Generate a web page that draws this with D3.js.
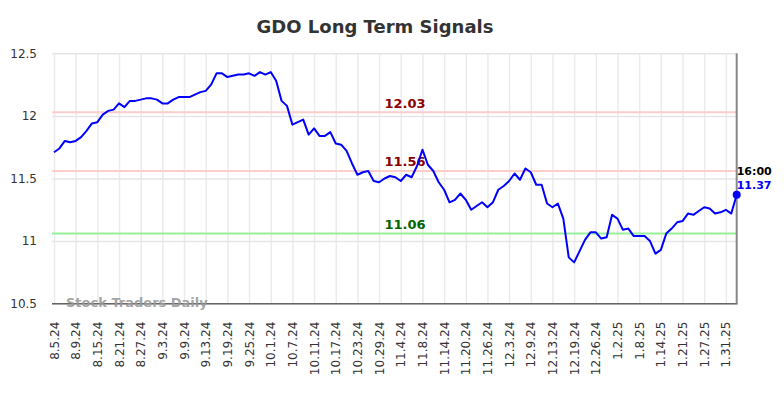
<!DOCTYPE html>
<html>
<head>
<meta charset="utf-8">
<script src="https://cdn.jsdelivr.net/npm/d3@7"></script>
<style>
  html, body { margin: 0; padding: 0; background: #fff; }
  svg { display: block; font-family: "DejaVu Sans", sans-serif; }
</style>
</head>
<body>
<svg id="chart" width="784" height="398"></svg>
<script>
// ---- data ----
const tickLabels = ["8.5.24","8.9.24","8.15.24","8.21.24","8.27.24","9.3.24","9.9.24","9.13.24","9.19.24","9.25.24",
  "10.1.24","10.7.24","10.11.24","10.17.24","10.23.24","10.29.24","11.4.24","11.8.24","11.14.24","11.20.24",
  "11.26.24","12.3.24","12.9.24","12.13.24","12.19.24","12.26.24","1.2.25","1.8.25","1.14.25","1.21.25",
  "1.27.25","1.31.25"];
const prices = [
  11.71,11.74,11.80,11.79,11.80,11.83,11.88,11.94,11.95,12.01,
  12.04,12.05,12.10,12.07,12.12,12.12,12.13,12.14,12.14,12.13,
  12.10,12.10,12.13,12.15,12.15,12.15,12.17,12.19,12.20,12.25,
  12.34,12.34,12.31,12.32,12.33,12.33,12.34,12.32,12.35,12.33,
  12.35,12.28,12.12,12.08,11.93,11.95,11.97,11.85,11.90,11.84,
  11.84,11.87,11.78,11.77,11.72,11.62,11.53,11.55,11.56,11.48,
  11.47,11.50,11.52,11.51,11.48,11.53,11.51,11.60,11.73,11.61,
  11.56,11.47,11.41,11.31,11.33,11.38,11.33,11.25,11.28,11.31,
  11.27,11.31,11.41,11.44,11.48,11.54,11.49,11.58,11.55,11.45,
  11.45,11.30,11.27,11.30,11.18,10.87,10.83,10.92,11.01,11.07,
  11.07,11.02,11.03,11.21,11.18,11.09,11.10,11.04,11.04,11.04,
  11.00,10.90,10.93,11.06,11.10,11.15,11.16,11.22,11.21,11.24,
  11.27,11.26,11.22,11.23,11.25,11.22,11.37
];
const yTicks = [10.5, 11, 11.5, 12, 12.5];
const signalValues = [12.03, 11.56, 11.06];
const signalLabels = ["12.03", "11.56", "11.06"];
const lastTime = "16:00";
const watermark = "Stock Traders Daily";
const title = "GDO Long Term Signals";

// ---- layout ----
const W = 784, H = 398;
const L = 54, R = 736.7, T = 53.3, B = 303.7;
const svg = d3.select("#chart");

const x = d3.scaleLinear().domain([0, prices.length - 1]).range([L, R]);
const y = d3.scaleLinear().domain([10.5, 12.5]).range([B, T]);
const tickIdx = tickLabels.map((d, i) => i * 4);

// title
svg.append("text").attr("x", 375).attr("y", 33).attr("text-anchor", "middle")
  .attr("font-size", 18).attr("font-weight", "bold").attr("fill", "#333").text(title);

// vertical grid
svg.append("g").attr("transform", `translate(0,${B})`)
  .call(d3.axisBottom(x).tickValues(tickIdx).tickSize(-(B - T)).tickFormat(""))
  .call(g => g.select(".domain").remove())
  .call(g => g.selectAll("line").attr("stroke", "#ebebeb").attr("stroke-width", 1.5));

// horizontal grid
svg.append("g").attr("transform", `translate(${L - 2},0)`)
  .call(d3.axisLeft(y).tickValues(yTicks).tickSize(-(R - L + 2)).tickFormat(""))
  .call(g => g.select(".domain").remove())
  .call(g => g.selectAll("line").attr("stroke", "#e6e6e6").attr("stroke-width", 1.5));

// y labels
svg.append("g").attr("transform", `translate(${L - 2},0)`)
  .call(d3.axisLeft(y).tickValues(yTicks).tickSize(0).tickPadding(15).tickFormat(d => String(d)))
  .call(g => g.select(".domain").remove())
  .call(g => g.selectAll("text").attr("font-size", 12).attr("fill", "#333")
    .attr("font-family", "DejaVu Sans, sans-serif"));

// x labels
svg.append("g").attr("transform", `translate(0,${B})`)
  .call(d3.axisBottom(x).tickValues(tickIdx).tickSize(0).tickFormat((d, i) => tickLabels[i]))
  .call(g => g.select(".domain").remove())
  .call(g => g.selectAll("text")
    .attr("font-size", 12).attr("fill", "#333").attr("font-family", "DejaVu Sans, sans-serif")
    .attr("text-anchor", "end").attr("dy", null).attr("y", 0)
    .attr("transform", "translate(4,18) rotate(-90)"));

// signal lines
const sigColors = ["#ffcccc", "#ffcccc", "#99ee99"];
const sigText = ["#8b0000", "#8b0000", "#006400"];
signalValues.forEach((v, i) => {
  svg.append("line").attr("x1", L - 2).attr("x2", R).attr("y1", y(v)).attr("y2", y(v))
    .attr("stroke", sigColors[i]).attr("stroke-width", 2);
  svg.append("text").attr("x", 405).attr("y", y(v) - 4.5).attr("text-anchor", "middle")
    .attr("font-size", 13).attr("font-weight", "bold").attr("fill", sigText[i]).text(signalLabels[i]);
});

// bottom axis line and right border
svg.append("line").attr("x1", L - 2).attr("x2", R + 1).attr("y1", B).attr("y2", B)
  .attr("stroke", "#666").attr("stroke-width", 1.5);
svg.append("line").attr("x1", R).attr("x2", R).attr("y1", T).attr("y2", B)
  .attr("stroke", "#888").attr("stroke-width", 2);

// watermark
svg.append("text").attr("x", 66).attr("y", 306.5).attr("font-size", 13).attr("font-weight", "bold")
  .attr("fill", "#999").attr("fill-opacity", 0.9).text(watermark);

// price line
const line = d3.line().x((d, i) => x(i)).y(d => y(d));
svg.append("path").datum(prices).attr("d", line).attr("fill", "none")
  .attr("stroke", "#0000ff").attr("stroke-width", 2).attr("stroke-linejoin", "round");

// last point
const li = prices.length - 1, lv = prices[li];
svg.append("circle").attr("cx", x(li)).attr("cy", y(lv)).attr("r", 4).attr("fill", "#0000ff");
svg.append("text").attr("x", x(li)).attr("y", y(lv) - 20).attr("font-size", 11).attr("font-weight", "bold")
  .attr("fill", "#000").text(lastTime);
svg.append("text").attr("x", x(li)).attr("y", y(lv) - 6).attr("font-size", 11).attr("font-weight", "bold")
  .attr("fill", "#0000ff").text(lv.toFixed(2));
</script>
</body>
</html>
